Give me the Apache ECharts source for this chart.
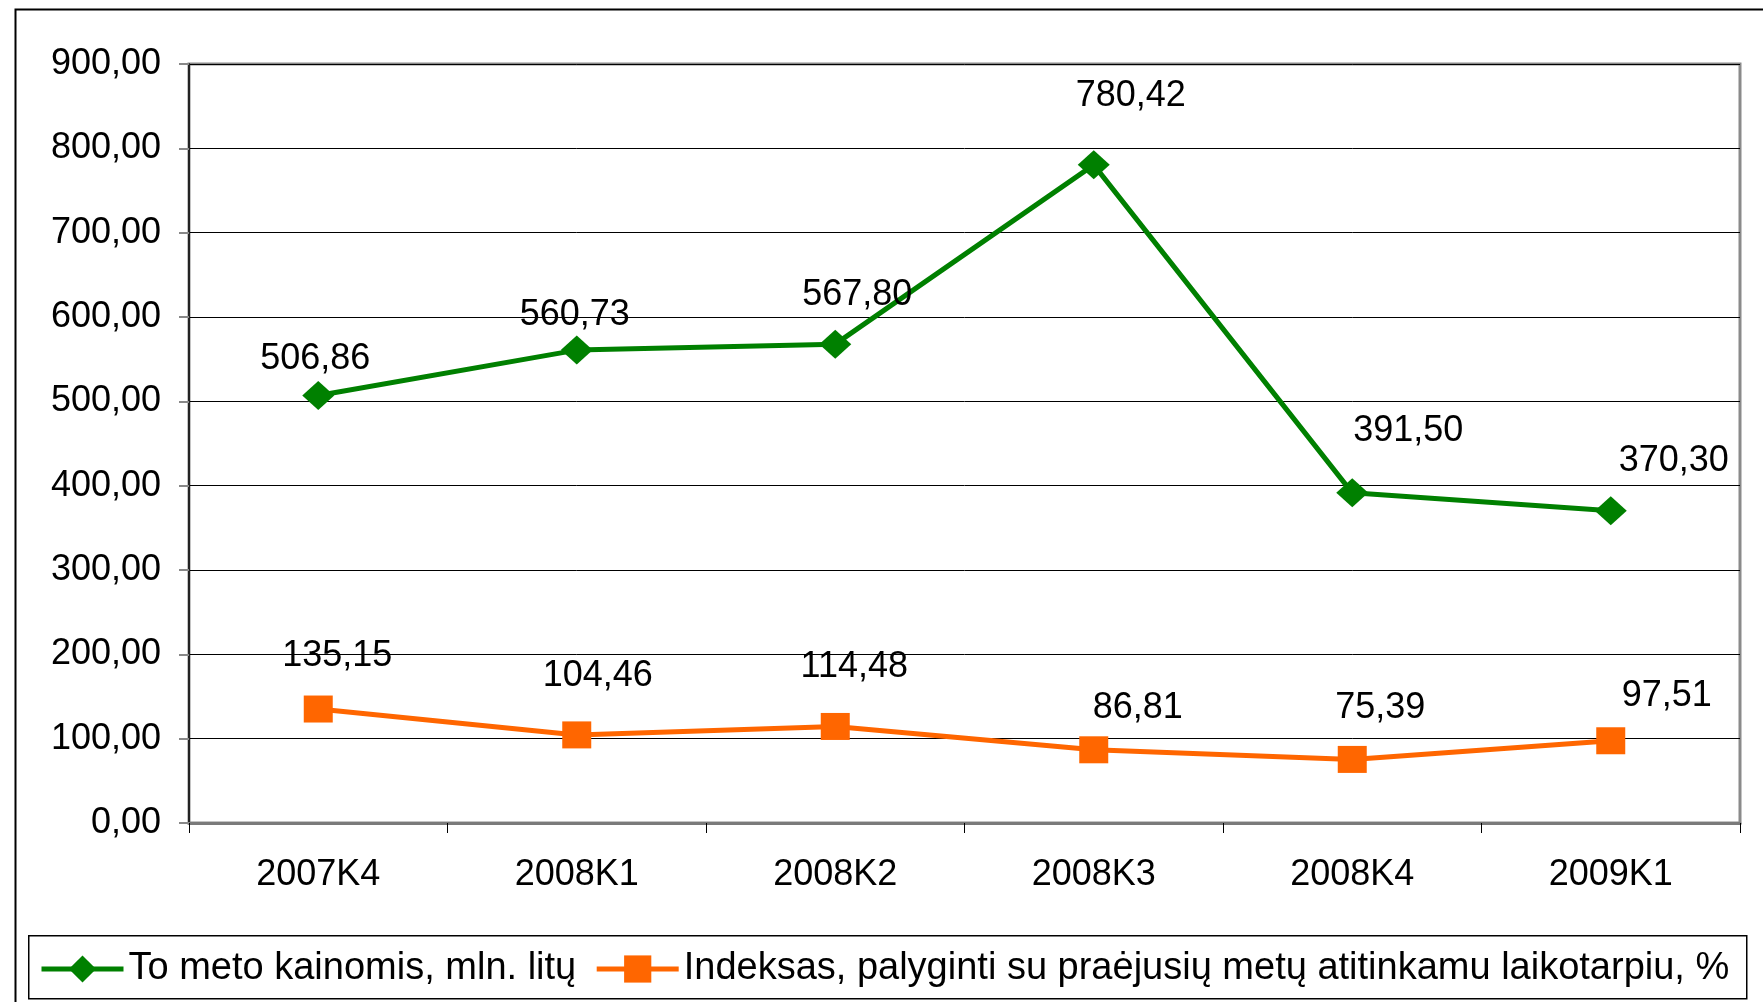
<!DOCTYPE html>
<html>
<head>
<meta charset="utf-8">
<script src="https://cdn.jsdelivr.net/npm/echarts@6/dist/echarts.min.js"></script>
<style>html,body{margin:0;padding:0;background:#fff;}#c{width:1763px;height:1002px;}</style>
</head>
<body>
<div id="c"></div>
<script>
const categories = ['2007K4', '2008K1', '2008K2', '2008K3', '2008K4', '2009K1'];
const seriesNames = ['To meto kainomis, mln. litų', 'Indeksas, palyginti su praėjusių metų atitinkamu laikotarpiu, %'];
const pricesValues = [506.86, 560.73, 567.80, 780.42, 391.50, 370.30];
const indexValues = [135.15, 104.46, 114.48, 86.81, 75.39, 97.51];
const yTicks = { min: 0, max: 900, interval: 100 };

// label placement offsets (layout only)
const pricesLabelOffsets = [[-3, -36], [-2, -35], [22, -49], [37, -69], [56, -62], [63, -50]];
const indexLabelOffsets = [[19, -53], [21, -59], [19, -59], [44, -42], [28, -51], [56, -45]];

const fmt = v => Number(v).toFixed(2).replace('.', ',');
const FONT = 'Liberation Sans, Arial, sans-serif';

function buildData(values, offsets) {
  return values.map((v, i) => ({
    value: v,
    label: { offset: offsets[i] }
  }));
}

const chart = echarts.init(document.getElementById('c'), null, { renderer: 'canvas' });
chart.setOption({
  animation: false,
  backgroundColor: '#fff',
  textStyle: { fontFamily: FONT },
  graphic: [
    { type: 'rect', left: 13, top: 7, shape: { width: 1800, height: 1100 }, style: { fill: 'none', stroke: '#000', lineWidth: 2 }, z: -1 },
    { type: 'rect', left: 28, top: 935, shape: { width: 1718, height: 63 }, style: { fill: '#fff', stroke: '#000', lineWidth: 1.5 }, z: 0 }
  ],
  grid: {
    left: 189, right: 23, top: 64, bottom: 179,
    show: true, borderColor: '#8a8a8a', borderWidth: 3, backgroundColor: 'transparent'
  },
  legend: {
    left: 39, top: 950, width: 1800, padding: 0,
    itemWidth: 82, itemHeight: 34, itemGap: 18,
    textStyle: { fontSize: 38, color: '#000', fontFamily: FONT },
    lineStyle: { width: 5 },
    data: seriesNames
  },
  xAxis: {
    type: 'category',
    data: categories,
    boundaryGap: true,
    axisLine: { lineStyle: { color: '#7a7a7a', width: 3 } },
    axisTick: { show: true, length: 10, inside: false, lineStyle: { color: '#000', width: 1 } },
    axisLabel: { fontSize: 36, color: '#000', margin: 34, fontFamily: FONT },
    splitLine: { show: false }
  },
  yAxis: {
    type: 'value',
    min: yTicks.min, max: yTicks.max, interval: yTicks.interval,
    axisLine: { show: true, lineStyle: { color: '#222', width: 2 } },
    axisTick: { show: true, length: 10, lineStyle: { color: '#888', width: 2 } },
    axisLabel: { fontSize: 36, color: '#000', margin: 28, formatter: fmt, fontFamily: FONT },
    splitLine: { show: true, lineStyle: { color: '#000', width: 1 } }
  },
  series: [
    {
      name: seriesNames[0],
      type: 'line',
      data: buildData(pricesValues, pricesLabelOffsets),
      symbol: 'diamond', symbolSize: [32, 29],
      itemStyle: { color: '#008000' },
      lineStyle: { color: '#008000', width: 5 },
      label: { show: true, position: 'inside', formatter: p => fmt(p.value), fontSize: 36, color: '#000', fontFamily: FONT },
      z: 3
    },
    {
      name: seriesNames[1],
      type: 'line',
      data: buildData(indexValues, indexLabelOffsets),
      symbol: 'rect', symbolSize: [29, 27],
      itemStyle: { color: '#FF6600' },
      lineStyle: { color: '#FF6600', width: 5 },
      label: { show: true, position: 'inside', formatter: p => fmt(p.value), fontSize: 36, color: '#000', fontFamily: FONT },
      z: 3
    }
  ]
});
</script>
</body>
</html>
